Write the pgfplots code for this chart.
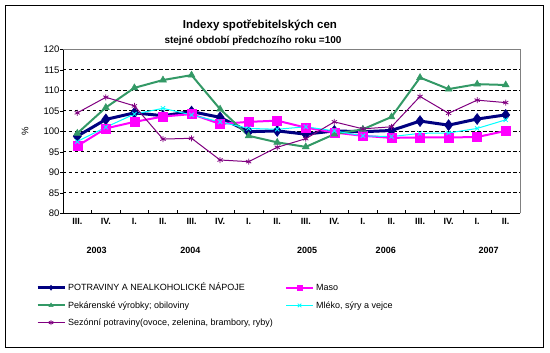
\documentclass[border=0pt]{standalone}
\usepackage{pgfplots}
\pgfplotsset{compat=1.18}
\usepackage{pgfplotstable}
\usepackage{fontspec}
\setmainfont{Liberation Sans}
\definecolor{cnavy}{RGB}{0,0,128}
\definecolor{cmag}{RGB}{255,0,255}
\definecolor{cgreen}{RGB}{51,153,102}
\definecolor{ccyan}{RGB}{0,255,255}
\definecolor{cpurple}{RGB}{128,0,128}
\pgfplotstableread{
x potr maso pek mleko sez
0  98.8  96.4  99.5  97.5 104.5
1 102.9 100.7 105.8 101.0 108.3
2 104.5 102.3 110.6 104.2 106.2
3 103.8 103.6 112.5 105.6  98.1
4 104.8 104.2 113.7 104.0  98.3
5 103.4 101.8 105.4 102.3  93.0
6  99.9 102.3  98.9 100.7  92.6
7 100.1 102.6  97.3 100.5  96.1
8  99.3 100.9  96.2 101.1  98.2
9 100.1  99.7  99.3 100.1 102.3
10 99.9  98.9 100.5  98.9 100.6
11 100.2 98.4 103.5  98.7 101.1
12 102.5 98.5 113.1  99.5 108.5
13 101.5 98.5 110.3  99.6 104.4
14 103.0 98.6 111.5 100.7 107.6
15 104.0 100.1 111.3 102.8 107.0
}\datatable
\begin{document}
\begin{tikzpicture}
\useasboundingbox (0pt,0pt) rectangle (550pt,-353pt);
\draw[black, line width=1pt] (5.5pt,-5.5pt) rectangle (543pt,-347pt);
\node[font=\bfseries\fontsize{11.5}{13}\selectfont, anchor=base] at (260pt,-28.5pt) {Indexy spotřebitelských cen};
\node[font=\bfseries\fontsize{10}{12}\selectfont, anchor=base] at (253pt,-43.5pt) {stejné období předchozího roku =100};
\node[rotate=90, font=\fontsize{9.5}{11}\selectfont] at (25pt,-131pt) {\%};
\begin{axis}[
  at={(63pt,-213.3pt)}, anchor=south west,
  scale only axis, width=457pt, height=164pt,
  xmin=-0.5, xmax=15.5, ymin=80, ymax=120,
  axis x line*=bottom, axis y line*=left,
  axis line style={black, line width=0.8pt},
  ytick={80,85,...,120},
  ymajorgrids,
  grid style={black, line width=0.7pt, dash pattern=on 3.5pt off 2.5pt},
  xtick={0,...,15},
  xticklabels={III.,IV.,I.,II.,III.,IV.,I.,II.,III.,IV.,I.,II.,III.,IV.,I.,II.},
  x tick label style={font=\bfseries\fontsize{9}{10}\selectfont, yshift=-1.5pt},
  y tick label style={font=\fontsize{9.5}{11}\selectfont},
  major x tick style={draw=none},
  minor xtick={-0.5,0.5,...,15.5},
  minor tick length=3pt,
  major tick length=3pt,
  tick style={black, line width=0.6pt},
  major y tick style={xshift=-3pt},
  /pgf/number format/assume math mode=true,
  clip=false,
  legend columns=2,
  legend cell align=left,
  legend style={at={(-0.066,-0.40)}, anchor=north west, draw=none, fill=none,
    font=\fontsize{9}{11}\selectfont, row sep=5pt,
    /tikz/every even column/.append style={column sep=0pt}},
  legend image code/.code={\draw[mark repeat=2,mark phase=2,#1] plot coordinates {(0pt,0pt) (13.5pt,0pt) (27pt,0pt)};},
  legend image post style={mark size=2.5pt},
]
\addplot[cnavy, line width=3pt, mark=diamond*, mark size=5.5pt, mark options={solid, line width=0.5pt}] table[x=x,y=potr] {\datatable};
\addlegendentry{\makebox[215pt][l]{POTRAVINY A NEALKOHOLICKÉ NÁPOJE}}
\addplot[cmag, line width=2pt, mark=square*, mark size=4.5pt, mark options={solid, line width=0.5pt}] table[x=x,y=maso] {\datatable};
\addlegendentry{Maso}
\addplot[cgreen, line width=2pt, mark=triangle*, mark size=4pt, mark options={solid, line width=0.5pt}] table[x=x,y=pek] {\datatable};
\addlegendentry{\makebox[215pt][l]{Pekárenské výrobky; obiloviny}}
\addplot[ccyan, line width=1pt, mark=x, mark size=3pt, mark options={solid, line width=0.8pt}] table[x=x,y=mleko] {\datatable};
\addlegendentry{Mléko, sýry a vejce}
\addplot[cpurple, line width=1pt, mark=asterisk, mark size=3pt, mark options={solid, line width=0.8pt}] table[x=x,y=sez] {\datatable};
\addlegendentry{\makebox[215pt][l]{Sezónní potraviny(ovoce, zelenina, brambory, ryby)}}
\draw[gray, line width=0.8pt] (rel axis cs:0,1) -- (rel axis cs:1,1) -- (rel axis cs:1,0);
\node[font=\bfseries\fontsize{9}{10}\selectfont] at (axis cs:0.68,80) [yshift=-37pt] {2003};
\node[font=\bfseries\fontsize{9}{10}\selectfont] at (axis cs:3.96,80) [yshift=-37pt] {2004};
\node[font=\bfseries\fontsize{9}{10}\selectfont] at (axis cs:8.05,80) [yshift=-37pt] {2005};
\node[font=\bfseries\fontsize{9}{10}\selectfont] at (axis cs:10.8,80) [yshift=-37pt] {2006};
\node[font=\bfseries\fontsize{9}{10}\selectfont] at (axis cs:14.4,80) [yshift=-37pt] {2007};
\end{axis}
\end{tikzpicture}
\end{document}
